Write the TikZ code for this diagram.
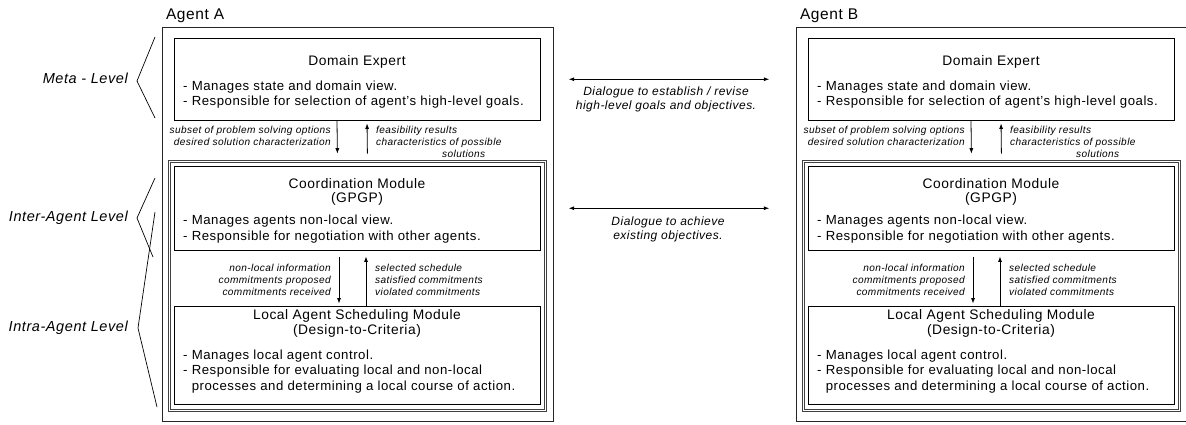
\documentclass[tikz,border=0pt]{standalone}
\usepackage{fontspec}
\setmainfont{Liberation Sans}[LetterSpace=4]
\usepackage{tikz}
\usetikzlibrary{arrows.meta, positioning}
\tikzset{
    agent/.style={rectangle, draw=black!85, line width=1.4pt, minimum width=391pt,
                  minimum height=394pt, inner sep=0pt},
    module/.style={rectangle, draw, line width=0.8pt, minimum width=366pt, inner sep=0pt},
    modgroup/.style={rectangle, draw=black!75, double, double distance=1.4pt, line width=0.6pt,
                     minimum width=376pt, minimum height=249pt, inner sep=0pt},
    modtitle/.style={font=\fontsize{13.8}{14.5}\selectfont, align=center, inner sep=0pt},
    bullets/.style={font=\fontsize{13.2}{15.5}\selectfont, align=left, anchor=west, inner sep=0pt},
    arrowlbl/.style={font=\fontsize{10.1}{12}\selectfont\itshape, inner sep=0pt},
    levellbl/.style={font=\fontsize{14.5}{16}\selectfont\itshape, anchor=east, inner sep=0pt},
    dialogue/.style={font=\fontsize{12}{14}\selectfont\itshape, align=center, inner sep=0pt},
    agentlbl/.style={font=\fontsize{15.5}{16}\selectfont, inner sep=0pt},
    arrow/.style={-{Latex[length=5.5pt, width=4pt]}, line width=0.8pt},
    biarrow/.style={{Latex[length=5.5pt, width=4pt]}-{Latex[length=5.5pt, width=4pt]}, line width=0.8pt},
    bracket/.style={line width=0.7pt},
}
\begin{document}
\begin{tikzpicture}[x=1pt, y=-1pt]
    \useasboundingbox (0,0) rectangle (1186,424);

    % Levels on the left
    \node[levellbl] (meta) at (128,78) {Meta - Level};
    \node[levellbl] (inter) at (128,218) {Inter-Agent Level};
    \node[levellbl] (intra) at (128,328) {Intra-Agent Level};
    \draw[bracket] (155,37) -- (137,81) -- (155,118);
    \draw[bracket] (155,178) -- (137,218) -- (153,257);
    \draw[bracket] (155,212) -- (138,328) -- (157,407);

    % The two agents
    \foreach \ag/\dx in {A/0, B/634} {
        \node[agent] (agt\ag) at (\dx+358,224.5) {};
        \node[agentlbl, above right=4pt and 4pt of agt\ag.north west] (agtlbl\ag) {Agent \ag};

        % Domain expert
        \node[module, minimum height=82.5pt] (de\ag) at (\dx+357,79.25) {};
        \node[modtitle] (detitle\ag) at (\dx+357,62) {Domain Expert};
        \node[bullets] (detext\ag) at (\dx+183,94.5)
            {- Manages state and domain view.\\- Responsible for selection of agent's high-level goals.};

        % Coordination and scheduling
        \node[modgroup] (grp\ag) at (\dx+357.5,286) {};
        \node[module, minimum height=83.5pt] (co\ag) at (\dx+357,208.25) {};
        \node[modtitle] (cotitle\ag) at (\dx+357,192) {Coordination Module\\(GPGP)};
        \node[bullets] (cotext\ag) at (\dx+183,229)
            {- Manages agents non-local view.\\- Responsible for negotiation with other agents.};
        \node[module, minimum height=97.5pt] (ls\ag) at (\dx+357,355.25) {};
        \node[modtitle] (lstitle\ag) at (\dx+357,323.5) {Local Agent Scheduling Module\\(Design-to-Criteria)};
        \node[bullets] (lstext\ag) at (\dx+183,371.5)
            {- Manages local agent control.\\- Responsible for evaluating local and non-local\\\phantom{- }processes and determining a local course of action.};

        % Arrows between modules
        \draw[arrow, shorten >=7.5pt] ([xshift=-20pt]de\ag.south) -- ([xshift=-20pt]grp\ag.north);
        \draw[arrow, shorten <=7.5pt, shorten >=2.5pt] ([xshift=10pt]grp\ag.north) -- ([xshift=10pt]de\ag.south);
        \node[arrowlbl, anchor=east, align=right] (dnlbl\ag) at (\dx+331,136)
            {subset of problem solving options\\desired solution characterization};
        \node[arrowlbl, anchor=west, align=left] (uplbl\ag) at (\dx+376,142)
            {feasibility results\\characteristics of possible\\\hspace*{66pt}solutions};

        \draw[arrow, shorten <=6.5pt, shorten >=2.5pt] ([xshift=-18pt]co\ag.south) -- ([xshift=-18pt]ls\ag.north);
        \draw[arrow, shorten >=6pt] ([xshift=9pt]ls\ag.north) -- ([xshift=9pt]co\ag.south);
        \node[arrowlbl, anchor=east, align=right] (dnlbl2\ag) at (\dx+331,280)
            {non-local information\\commitments proposed\\commitments received};
        \node[arrowlbl, anchor=west, align=left] (uplbl2\ag) at (\dx+375,280)
            {selected schedule\\satisfied commitments\\violated commitments};
    }

    % Dialogue between the agents
    \draw[biarrow, shorten <=14.5pt, shorten >=26.5pt] (agtA.east |- deA) -- (agtB.west |- deB);
    \node[dialogue] (dlgtop) at (666,99) {Dialogue to establish / revise\\high-level goals and objectives.};
    \draw[biarrow, shorten <=14.5pt, shorten >=26.5pt] (agtA.east |- coA) -- (agtB.west |- coB);
    \node[dialogue] (dlgbot) at (668,229) {Dialogue to achieve\\existing objectives.};
\end{tikzpicture}
\end{document}
